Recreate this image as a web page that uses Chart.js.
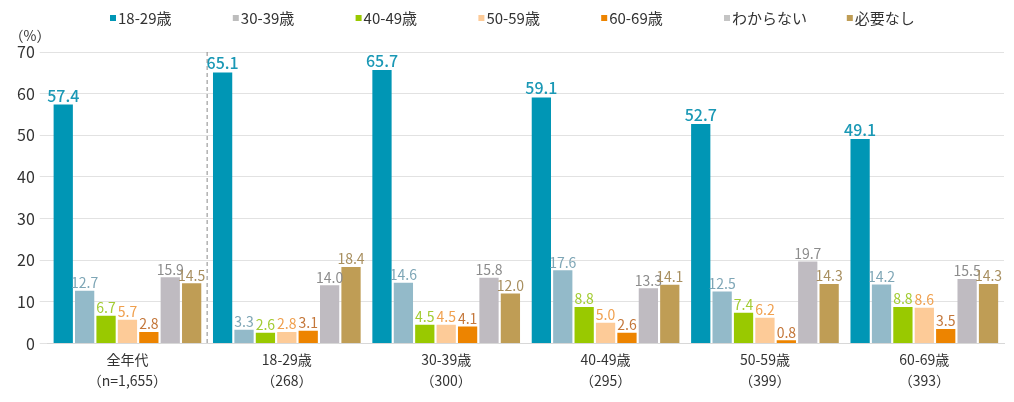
<!DOCTYPE html>
<html lang="ja">
<head>
<meta charset="UTF-8">
<title>年代別グラフ</title>
<script src="https://cdn.jsdelivr.net/npm/chart.js"></script>
<style>
    body { margin: 0; background: #fff; }
    #wrap { width: 1014px; height: 402px; position: relative; }
</style>
</head>
<body>
<div id="wrap"><canvas id="chart"></canvas></div>
<script>
    // カテゴリ（2行ラベル）
    const groups = [
        ['全年代', '（n=1,655）'],
        ['18-29歳', '（268）'],
        ['30-39歳', '（300）'],
        ['40-49歳', '（295）'],
        ['50-59歳', '（399）'],
        ['60-69歳', '（393）']
    ];
    const seriesNames = ['18-29歳', '30-39歳', '40-49歳', '50-59歳', '60-69歳', 'わからない', '必要なし'];

    const v1829 = [57.4, 65.1, 65.7, 59.1, 52.7, 49.1];
    const v3039 = [12.7, 3.3, 14.6, 17.6, 12.5, 14.2];
    const v4049 = [6.7, 2.6, 4.5, 8.8, 7.4, 8.8];
    const v5059 = [5.7, 2.8, 4.5, 5.0, 6.2, 8.6];
    const v6069 = [2.8, 3.1, 4.1, 2.6, 0.8, 3.5];
    const vUnknown = [15.9, 14.0, 15.8, 13.3, 19.7, 15.5];
    const vNone = [14.5, 18.4, 12.0, 14.1, 14.3, 14.3];

    const yTicks = [0, 10, 20, 30, 40, 50, 60, 70];

    const barColors = ['#0096b5', '#93bac9', '#99c900', '#fdcb98', '#ed8400', '#bfbbc1', '#bf9d55'];
    const legendColors = ['#0096b5', '#bdbdbd', '#99c900', '#fdcb98', '#ed8400', '#c4c4c4', '#bf9d55'];
    const labelColors = ['#1a98b5', '#7ea6b6', '#a3cc33', '#f0a04e', '#c4773a', '#8c8c8c', '#a88f5f'];

    const allValues = [v1829, v3039, v4049, v5059, v6069, vUnknown, vNone];

    const FONT = '"Noto Sans CJK JP", "Noto Sans", sans-serif';

    // 棒の上に数値を描く
    const valueLabels = {
        id: 'valueLabels',
        afterDatasetsDraw(chart) {
            const ctx = chart.ctx;
            ctx.save();
            ctx.textAlign = 'center';
            ctx.textBaseline = 'bottom';
            chart.data.datasets.forEach((ds, i) => {
                const meta = chart.getDatasetMeta(i);
                ctx.fillStyle = labelColors[i];
                ctx.font = i === 0 ? '500 16px ' + FONT : '14px ' + FONT;
                meta.data.forEach((bar, j) => {
                    ctx.fillText(ds.data[j].toFixed(1), bar.x, bar.y - 1);
                });
            });
            ctx.restore();
        }
    };

    // 凡例（上部に横並び）、破線、(%) 表示
    const extras = {
        id: 'extras',
        afterDraw(chart) {
            const ctx = chart.ctx;
            const x = chart.scales.x;
            const y = chart.scales.y;
            ctx.save();

            // 全年代と年代別の間の破線
            const xm = (x.getPixelForValue(0) + x.getPixelForValue(1)) / 2;
            ctx.strokeStyle = '#8a8a8a';
            ctx.lineWidth = 1;
            ctx.setLineDash([4, 3]);
            ctx.beginPath();
            ctx.moveTo(xm, y.top);
            ctx.lineTo(xm, y.bottom);
            ctx.stroke();
            ctx.setLineDash([]);

            // (%)
            ctx.fillStyle = '#333';
            ctx.font = '14px ' + FONT;
            ctx.textAlign = 'center';
            ctx.textBaseline = 'middle';
            ctx.fillText('（%）', 30, 36);

            // 凡例
            ctx.font = '15px ' + FONT;
            ctx.textAlign = 'left';
            seriesNames.forEach((name, i) => {
                const lx = 110 + i * 122.8;
                ctx.fillStyle = legendColors[i];
                ctx.fillRect(lx, 15, 6, 6);
                ctx.fillStyle = '#333';
                ctx.fillText(name, lx + 8, 18);
            });
            ctx.restore();
        }
    };

    new Chart(document.getElementById('chart'), {
        type: 'bar',
        data: {
            labels: groups,
            datasets: seriesNames.map((name, i) => ({
                label: name,
                data: allValues[i],
                backgroundColor: barColors[i],
                borderWidth: 0,
                categoryPercentage: 0.94,
                barPercentage: 0.9
            }))
        },
        options: {
            responsive: true,
            maintainAspectRatio: false,
            animation: false,
            layout: { padding: { left: 12, right: 10, top: 52, bottom: 13 } },
            plugins: {
                legend: { display: false },
                tooltip: { enabled: false }
            },
            scales: {
                x: {
                    grid: { display: false },
                    border: { color: '#d8d8d8' },
                    ticks: { color: '#333', font: { family: FONT, size: 14, lineHeight: 1.55 }, padding: -3 }
                },
                y: {
                    min: 0,
                    max: 70,
                    afterBuildTicks(scale) { scale.ticks = yTicks.map(v => ({ value: v })); },
                    grid: { color: '#e2e2e2' },
                    border: { display: false },
                    ticks: { color: '#333', font: { family: FONT, size: 16 }, padding: 5 }
                }
            }
        },
        plugins: [valueLabels, extras]
    });
</script>
</body>
</html>
